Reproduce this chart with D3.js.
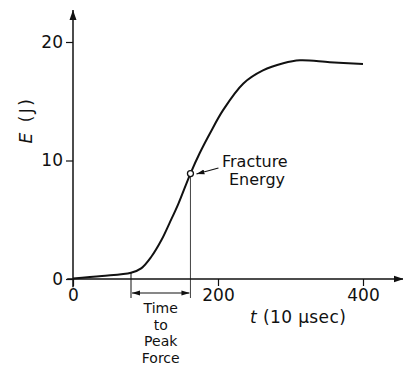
<!DOCTYPE html>
<html lang="en">
<head>
<meta charset="UTF-8">
<title>Fracture energy curve</title>
<script src="https://d3js.org/d3.v7.min.js"></script>
<style>
    body, html { margin: 0; background: #fff; }
    text { font-family: "DejaVu Sans", sans-serif; fill: #111; }
</style>
</head>
<body>
<svg width="403" height="367"></svg>
<script>
    // valores
    const tVals = [0, 40, 80, 94, 108, 122, 133, 145, 162, 175, 189, 207, 235, 262, 290, 313, 354, 400];
    const eVals = [0.05, 0.25, 0.53, 0.9, 1.88, 3.29, 4.7, 6.3, 8.9, 10.65, 12.3, 14.25, 16.5, 17.6, 18.2, 18.45, 18.3, 18.15];
    const xTicks = [0, 200, 400];
    const yTicks = [0, 10, 20];
    const peakStart = 80;          // inicio do tempo ate a forca maxima
    const fracture = [162, 8.9];   // ponto de energia de fratura

    const svg = d3.select("svg");
    const x = d3.scaleLinear().domain([0, 400]).range([73, 363]);
    const y = d3.scaleLinear().domain([0, 20]).range([279, 42]);

    const defs = svg.append("defs");
    defs.append("marker").attr("id", "ax").attr("viewBox", "0 0 10 10")
        .attr("refX", 10).attr("refY", 5).attr("markerWidth", 10).attr("markerHeight", 10)
        .attr("markerUnits", "userSpaceOnUse").attr("orient", "auto")
        .append("path").attr("d", "M0,1.5 L10,5 L0,8.5 Z").attr("fill", "#111");
    defs.append("marker").attr("id", "sm").attr("viewBox", "0 0 10 10")
        .attr("refX", 10).attr("refY", 5).attr("markerWidth", 8).attr("markerHeight", 8)
        .attr("markerUnits", "userSpaceOnUse").attr("orient", "auto-start-reverse")
        .append("path").attr("d", "M0,2 L10,5 L0,8 Z").attr("fill", "#111");

    // eixos
    svg.append("line").attr("x1", x(-8)).attr("x2", x(456)).attr("y1", y(0)).attr("y2", y(0))
        .attr("stroke", "#111").attr("stroke-width", 1.5).attr("marker-end", "url(#ax)");
    svg.append("line").attr("x1", x(0)).attr("x2", x(0)).attr("y1", y(-0.7)).attr("y2", y(22.7))
        .attr("stroke", "#111").attr("stroke-width", 1.5).attr("marker-end", "url(#ax)");

    const gx = svg.append("g").attr("transform", `translate(0,${y(0)})`)
        .call(d3.axisBottom(x).tickValues(xTicks).tickSize(7).tickPadding(3));
    const gy = svg.append("g").attr("transform", `translate(${x(0)},0)`)
        .call(d3.axisLeft(y).tickValues(yTicks).tickSize(7).tickPadding(3));
    [gx, gy].forEach(g => {
        g.select(".domain").remove();
        g.selectAll("line").attr("stroke", "#111").attr("stroke-width", 1.2);
        g.selectAll("text").attr("font-size", 17).attr("font-family", "DejaVu Sans, sans-serif").attr("fill", "#111");
    });

    // curva
    const pts = tVals.map((t, i) => [t, eVals[i]]);
    svg.append("path").datum(pts)
        .attr("d", d3.line().x(d => x(d[0])).y(d => y(d[1])).curve(d3.curveCatmullRom.alpha(0.5)))
        .attr("fill", "none").attr("stroke", "#111").attr("stroke-width", 2);

    // linhas de cota
    const eStart = eVals[tVals.indexOf(peakStart)];
    svg.append("line").attr("x1", x(peakStart)).attr("x2", x(peakStart))
        .attr("y1", y(eStart)).attr("y2", y(0) + 19).attr("stroke", "#111").attr("stroke-width", 1);
    svg.append("line").attr("x1", x(fracture[0])).attr("x2", x(fracture[0]))
        .attr("y1", y(fracture[1]) + 3).attr("y2", y(0) + 19).attr("stroke", "#111").attr("stroke-width", 0.8);
    svg.append("line").attr("x1", x(peakStart) + 1).attr("x2", x(fracture[0]) - 1)
        .attr("y1", y(0) + 14).attr("y2", y(0) + 14).attr("stroke", "#111").attr("stroke-width", 1.2)
        .attr("marker-start", "url(#sm)").attr("marker-end", "url(#sm)");

    const cx = (x(peakStart) + x(fracture[0])) / 2;
    ["Time", "to", "Peak", "Force"].forEach((s, i) => {
        svg.append("text").attr("x", cx).attr("y", 313 + i * 16.5)
            .attr("text-anchor", "middle").attr("font-size", 14).text(s);
    });

    // ponto de fratura
    svg.append("circle").attr("cx", x(fracture[0])).attr("cy", y(fracture[1])).attr("r", 3)
        .attr("fill", "#fff").attr("stroke", "#111").attr("stroke-width", 1.3);
    svg.append("line").attr("x1", x(fracture[0]) + 28).attr("y1", y(fracture[1]) - 5.5)
        .attr("x2", x(fracture[0]) + 6).attr("y2", y(fracture[1]) + 0.5)
        .attr("stroke", "#111").attr("stroke-width", 1.2).attr("marker-end", "url(#sm)");
    svg.append("text").attr("x", 222).attr("y", 167).attr("font-size", 16).text("Fracture");
    svg.append("text").attr("x", 229).attr("y", 185).attr("font-size", 16).text("Energy");

    // rotulos dos eixos
    const xl = svg.append("text").attr("x", 250).attr("y", 323).attr("font-size", 17).attr("letter-spacing", 0.4);
    xl.append("tspan").attr("font-style", "italic").text("t");
    xl.append("tspan").text(" (10 \u03bcsec)");

    const yl = svg.append("text").attr("transform", "translate(32,120) rotate(-90)")
        .attr("text-anchor", "middle").attr("font-size", 17).attr("letter-spacing", 2.5);
    yl.append("tspan").attr("font-style", "italic").text("E");
    yl.append("tspan").text(" (J)");
</script>
</body>
</html>
